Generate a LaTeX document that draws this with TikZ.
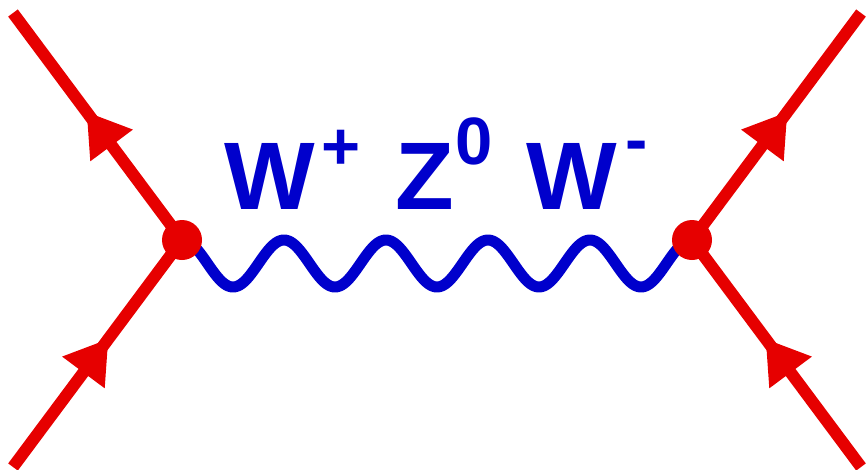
\documentclass[tikz,border=0pt]{standalone}
\usepackage{fontspec}
\setmainfont{Liberation Sans}
\usetikzlibrary{arrows.meta,decorations.markings,calc}
\definecolor{fred}{RGB}{230,0,0}
\definecolor{bblue}{RGB}{0,0,204}
\tikzset{
  fermion/.style={draw=fred, line width=12pt, line cap=butt,
    postaction={decorate},
    decoration={markings, mark=at position 0.565 with {\arrow[fred]{Triangle[length=42pt,width=50pt]}}}},
  vtx/.style={circle, fill=fred, minimum size=40pt, inner sep=0pt},
  boson/.style={draw=bblue, line width=11pt, line join=round},
  bigtxt/.style={text=bblue, inner sep=0pt, font=\fontsize{96}{96}\selectfont\bfseries},
  suptxt/.style={text=bblue, inner sep=0pt, font=\fontsize{67}{67}\selectfont\bfseries}
}
\begin{document}
\begin{tikzpicture}[x=1pt,y=-1pt]
\useasboundingbox (0,0) rectangle (867,469);
\coordinate (a1) at (13,13);
\coordinate (a2) at (13,467);
\coordinate (b1) at (861,13);
\coordinate (b2) at (861,467);
\coordinate (c1) at (182,240);
\coordinate (c2) at (692,240);
\draw[fermion] (a2) -- (c1);
\draw[fermion] (c1) -- (a1);
\draw[fermion] (b2) -- (c2);
\draw[fermion] (c2) -- (b1);
\draw[boson] let \p1=(c1), \p2=(c2) in
  plot[variable=\t, domain=0:1, samples=301, smooth]
  ({\x1+(\x2-\x1)*\t}, {\y1-23.5pt*(1-cos(1800*\t))});
\node[vtx] (v1) at (c1) {};
\node[vtx] (v2) at (c2) {};
\node[bigtxt, anchor=base west] (w1) at (224,209) {W};
\node[suptxt, anchor=base west] (p1) at (321,169) {+};
\node[bigtxt, anchor=base west] (z0) at (395,209) {Z};
\node[suptxt, anchor=base west] (p0) at (455,164) {0};
\node[bigtxt, anchor=base west] (w2) at (526,209) {W};
\node[suptxt, anchor=base west] (pm) at (625,162) {-};
\end{tikzpicture}
\end{document}
